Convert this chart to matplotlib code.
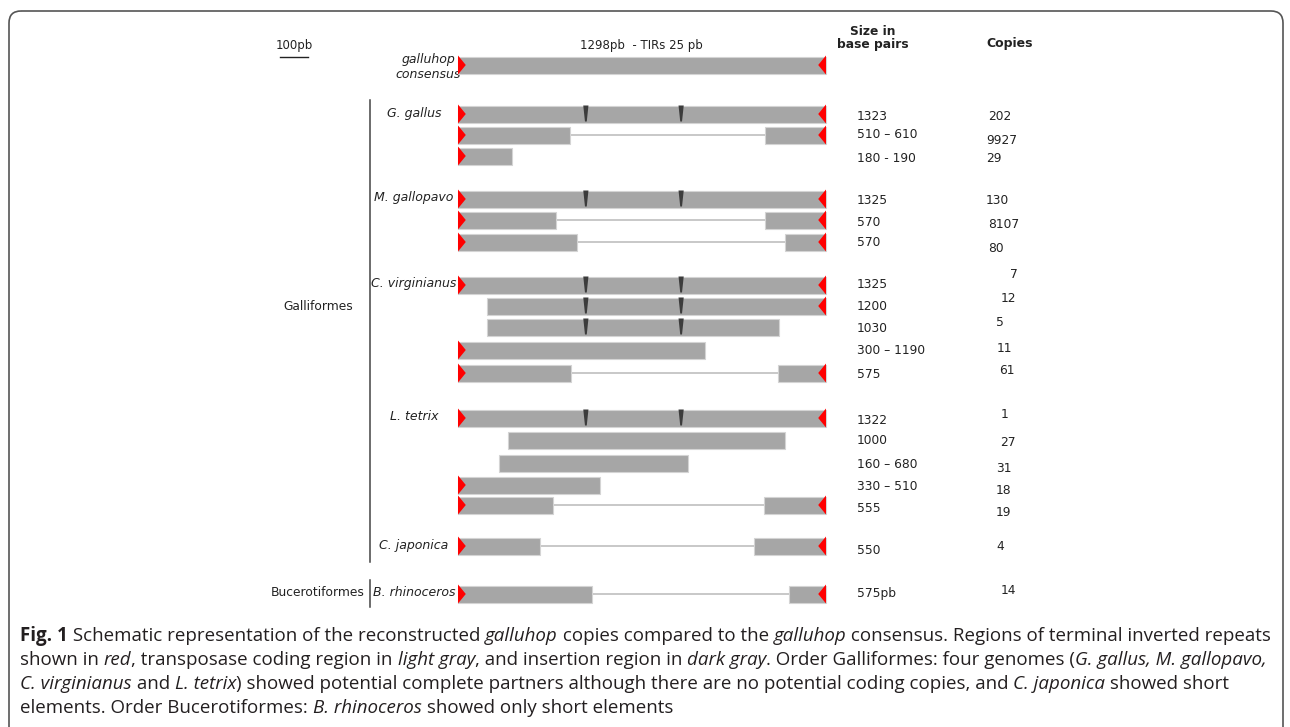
import numpy as np
import matplotlib.pyplot as plt
from matplotlib.patches import Polygon, FancyBboxPatch
from matplotlib import font_manager


# ---- data (bp) ----
consensus_len = 1298
tir_len = 25
insert_pos = [451, 787]

species = ['G. gallus', 'M. gallopavo', 'C. virginianus', 'L. tetrix', 'C. japonica', 'B. rhinoceros']
species_first_row = [0, 3, 6, 11, 16, 17]

# segments of each copy (start, end) in bp
row_segments = [
    [(0, 1298)], [(0, 395), (1083, 1298)], [(0, 190)],
    [(0, 1298)], [(0, 346), (1083, 1298)], [(0, 420), (1153, 1298)],
    [(0, 1298)], [(102, 1298)], [(102, 1132)], [(0, 871)], [(0, 399), (1129, 1298)],
    [(0, 1298)], [(176, 1153)], [(145, 811)], [(0, 501)], [(0, 335), (1079, 1298)],
    [(0, 289), (1044, 1298)],
    [(0, 473), (1168, 1298)],
]
row_tir_left = [1, 1, 1, 1, 1, 1, 1, 0, 0, 1, 1, 1, 0, 0, 1, 1, 1, 1]
row_tir_right = [1, 1, 0, 1, 1, 1, 1, 1, 0, 0, 1, 1, 0, 0, 0, 1, 1, 1]
row_insert = [1, 0, 0, 1, 0, 0, 1, 1, 1, 0, 0, 1, 0, 0, 0, 0, 0, 0]
sizes = ['1323', '510 – 610', '180 - 190', '1325', '570', '570',
         '1325', '1200', '1030', '300 – 1190', '575',
         '1322', '1000', '160 – 680', '330 – 510', '555', '550', '575pb']
copies = ['202', '9927', '29', '130', '8107', '80', '7', '12', '5', '11', '61',
          '1', '27', '31', '18', '19', '4', '14']

# ---- layout (pixels) ----
W, H = 1290, 727
x0_px, px_per_bp = 458, 368 / 1298
cons_y = 65
row_y = [114, 135, 156, 199, 220, 242, 285, 306, 327, 350, 373,
         418, 440, 463, 485, 505, 546, 594]
size_y = [117, 134, 158, 200, 222, 243, 284, 306, 328, 350, 375,
          420, 441, 465, 486, 508, 550, 593]
copy_y = [117, 141, 159, 201, 224, 248, 274, 298, 323, 348, 371,
          414, 443, 468, 491, 512, 547, 590]
copy_x = [988, 986, 986, 986, 988, 988, 1010, 1001, 996, 997, 999,
          1001, 1000, 996, 996, 996, 996, 1001]
bar_h = 17

bar_col = '#a6a6a6'
tir_col = '#ff0000'
ins_col = '#3c3c3c'
txt_col = '#222222'

fig = plt.figure(figsize=(W / 100, H / 100), dpi=100)
# pixel-space overlay for text/frame
tx = fig.add_axes([0, 0, 1, 1])
tx.set_xlim(0, W)
tx.set_ylim(H, 0)
tx.axis('off')
# bp-space axes for the elements
ax = fig.add_axes([0, 0, 1, 1], sharey=tx)
ax.set_xlim(-x0_px / px_per_bp, (W - x0_px) / px_per_bp)
ax.axis('off')
ax.patch.set_alpha(0)

tir_w = tir_len * 1.1
ins_top = 2.6 / px_per_bp
ins_bot = 0.9 / px_per_bp


def draw_row(y, segs, tl, tr, ins):
    if len(segs) > 1:
        ax.plot([segs[0][1], segs[-1][0]], [y, y], color='#c8c8c8', lw=1.4, zorder=1)
    for a, b in segs:
        ax.barh(y, b - a, left=a, height=bar_h, color=bar_col,
                edgecolor='#d4d4d4', linewidth=0.8, zorder=2)
    lo, hi = segs[0][0], segs[-1][1]
    if ins:
        for p in insert_pos:
            if lo < p < hi:
                ax.add_patch(Polygon([(p - ins_top, y - bar_h / 2), (p + ins_top, y - bar_h / 2),
                                      (p + ins_bot, y + bar_h / 2 - 1), (p - ins_bot, y + bar_h / 2 - 1)],
                                     closed=True, color=ins_col, lw=0, zorder=3))
    if tl:
        ax.add_patch(Polygon([(lo, y - bar_h / 2 - 1), (lo, y + bar_h / 2 + 1), (lo + tir_w, y)],
                             closed=True, color=tir_col, lw=0, zorder=4))
    if tr:
        ax.add_patch(Polygon([(hi, y - bar_h / 2 - 1), (hi, y + bar_h / 2 + 1), (hi - tir_w, y)],
                             closed=True, color=tir_col, lw=0, zorder=4))


draw_row(cons_y, [(0, consensus_len)], 1, 1, 0)
for i in range(len(row_y)):
    draw_row(row_y[i], row_segments[i], row_tir_left[i], row_tir_right[i], row_insert[i])

# scale bar 100 bp
sb_x0 = (280 - x0_px) / px_per_bp
ax.plot([sb_x0, sb_x0 + 100], [57, 57], color=txt_col, lw=1)
tx.text(294, 45, '100pb', ha='center', va='center', fontsize=8.5, color=txt_col)

tx.text(641, 46, '1298pb  - TIRs 25 pb', ha='center', va='center', fontsize=8.5, color=txt_col)
tx.text(428, 67, 'galluhop\nconsensus', ha='center', va='center', fontsize=9,
        style='italic', color=txt_col, linespacing=1.15)
tx.text(873, 38, 'Size in\nbase pairs', ha='center', va='center', fontsize=8.8,
        fontweight='bold', color=txt_col, linespacing=1.0)
tx.text(1010, 43, 'Copies', ha='center', va='center', fontsize=9,
        fontweight='bold', color=txt_col)

for name, r in zip(species, species_first_row):
    tx.text(414, row_y[r] - 1, name, ha='center', va='center', fontsize=9,
            style='italic', color=txt_col)
for i in range(len(row_y)):
    tx.text(857, size_y[i], sizes[i], ha='left', va='center', fontsize=8.8, color=txt_col)
    tx.text(copy_x[i], copy_y[i], copies[i], ha='left', va='center', fontsize=8.8, color=txt_col)

# order brackets
tx.plot([370, 370], [100, 562], color='#444444', lw=1.1)
tx.text(318, 306, 'Galliformes', ha='center', va='center', fontsize=8.8, color=txt_col)
tx.plot([370, 370], [580, 607], color='#444444', lw=1.1)
tx.text(318, 593, 'Bucerotiformes', ha='center', va='center', fontsize=8.8, color=txt_col)

# frame
tx.add_patch(FancyBboxPatch((9, 11), 1274, 760, boxstyle='round,pad=0,rounding_size=12',
                            fc='none', ec='#555555', lw=1.2, clip_on=False))

# ---- caption ----
cap_font = 'DejaVu Sans'
for f in ['Open Sans', 'Noto Sans']:
    try:
        font_manager.findfont(f, fallback_to_default=False)
        cap_font = f
        break
    except Exception:
        pass

cap_lines = [
    [('Fig. 1', 'b'), (' Schematic representation of the reconstructed ', 'n'), ('galluhop', 'i'),
     (' copies compared to the ', 'n'), ('galluhop', 'i'),
     (' consensus. Regions of terminal inverted repeats', 'n')],
    [('shown in ', 'n'), ('red', 'i'), (', transposase coding region in ', 'n'), ('light gray', 'i'),
     (', and insertion region in ', 'n'), ('dark gray', 'i'),
     ('. Order Galliformes: four genomes (', 'n'), ('G. gallus, M. gallopavo,', 'i')],
    [('C. virginianus', 'i'), (' and ', 'n'), ('L. tetrix', 'i'),
     (') showed potential complete partners although there are no potential coding copies, and ', 'n'),
     ('C. japonica', 'i'), (' showed short', 'n')],
    [('elements. Order Bucerotiformes: ', 'n'), ('B. rhinoceros', 'i'), (' showed only short elements', 'n')],
]
cap_y = [636, 660, 684, 708]
renderer = fig.canvas.get_renderer()


def run_width(runs, fs):
    tot = 0
    for s, st in runs:
        t = fig.text(0, 0, s, fontsize=fs, family=cap_font,
                     fontweight='bold' if st == 'b' else 'normal',
                     style='italic' if st == 'i' else 'normal')
        tot += t.get_window_extent(renderer).width
        t.remove()
    return tot


cap_fs = 12 * 1246 / run_width(cap_lines[0], 12)
for runs, y in zip(cap_lines, cap_y):
    x = 20
    for s, st in runs:
        t = tx.text(x, y, s, ha='left', va='center', fontsize=cap_fs, family=cap_font,
                    fontweight='bold' if st == 'b' else 'normal',
                    style='italic' if st == 'i' else 'normal', color='#231f20')
        x += t.get_window_extent(renderer).width

fig.savefig('out.png', dpi=100)
